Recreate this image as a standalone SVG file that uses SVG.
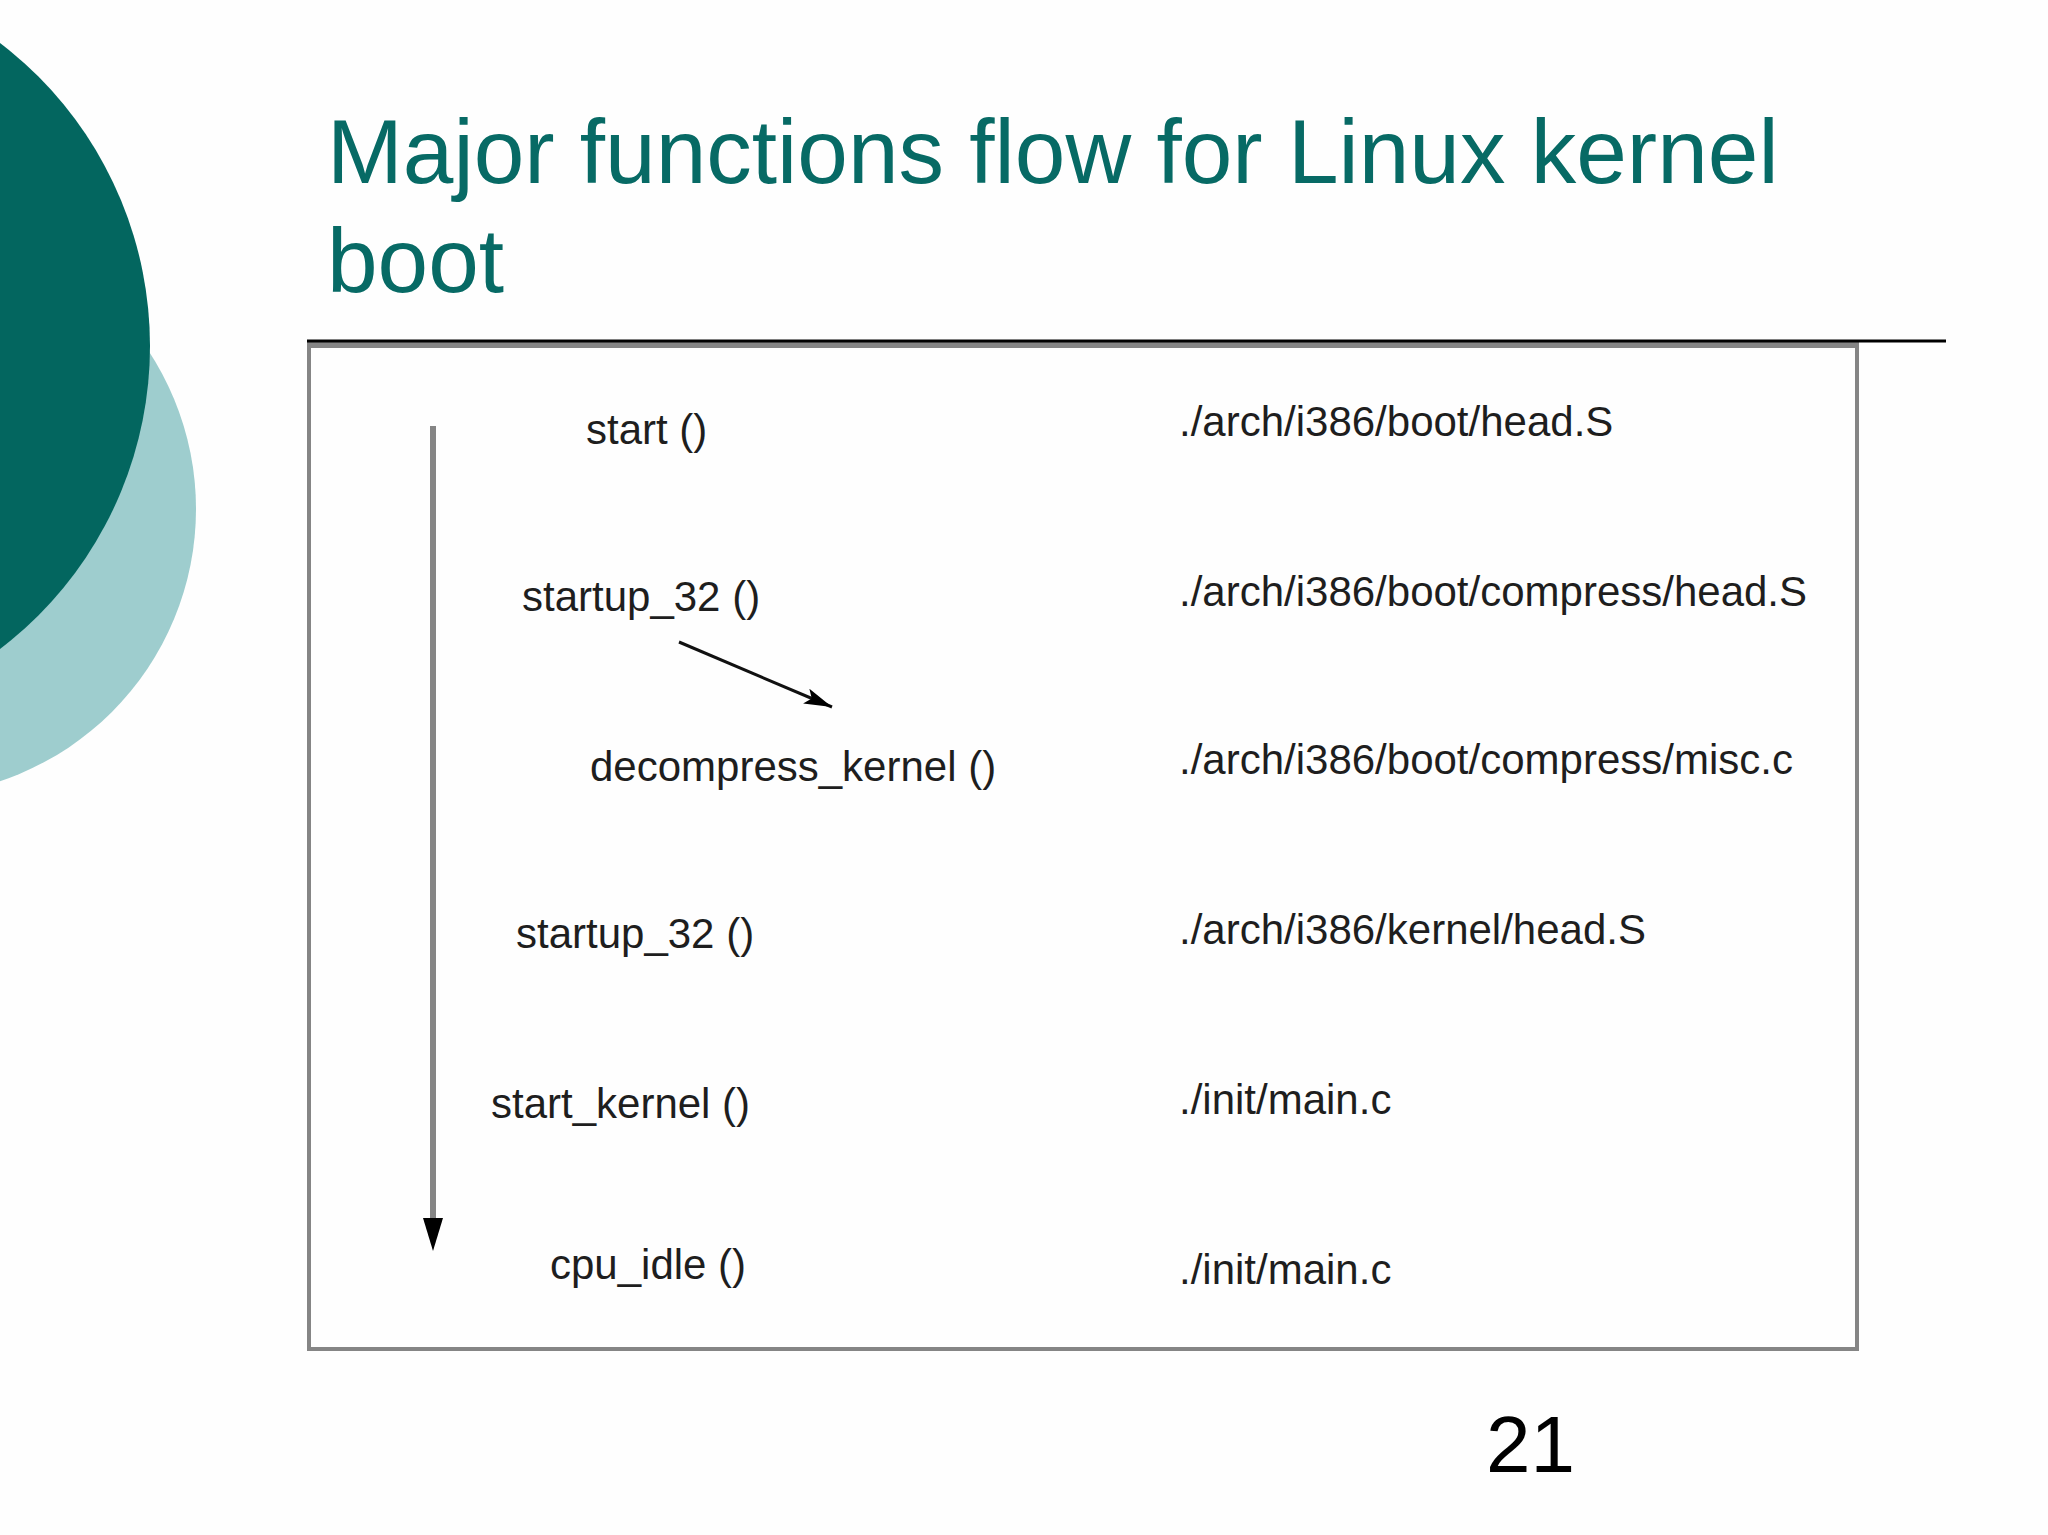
<svg xmlns="http://www.w3.org/2000/svg" width="2048" height="1535" viewBox="0 0 2048 1535">
  <style>
    .title { font-family: "Liberation Sans", Arial, sans-serif; font-size: 91px; fill: #076A65; }
    .fn { font-family: "Liberation Sans", Arial, sans-serif; font-size: 42px; fill: #1E1E1E; }
    .path { font-family: "Liberation Sans", Arial, sans-serif; font-size: 42px; fill: #1E1E1E; }
    .num { font-family: "Liberation Sans", Arial, sans-serif; font-size: 80px; fill: #000000; }
  </style>
  <defs>
    <marker id="headD" viewBox="0 0 28 16" refX="28" refY="8" markerUnits="userSpaceOnUse" markerWidth="28" markerHeight="16" orient="auto">
      <path d="M0,0 L28,8 L0,16 L6,8 Z" fill="#000"/>
    </marker>
  </defs>
  <rect x="0" y="0" width="2048" height="1535" fill="#FEFEFE"/>

  <g id="decoration">
    <circle cx="-91" cy="509" r="287" fill="#9ECDCE"/>
    <circle cx="-231" cy="346" r="381" fill="#03665F"/>
  </g>

  <g id="title">
    <text class="title" x="327" y="183">Major functions flow for Linux kernel</text>
    <text class="title" x="327" y="292">boot</text>
  </g>

  <g id="frame">
    <rect x="309" y="344" width="1548" height="1005" fill="none" stroke="#858585" stroke-width="4"/>
    <rect x="307" y="341" width="1552" height="7" fill="#858585"/>
    <line x1="307" y1="341" x2="1946" y2="341" stroke="#000" stroke-width="3"/>
  </g>

  <g id="connectors">
    <line x1="433" y1="426" x2="433" y2="1222" stroke="#858585" stroke-width="6"/>
    <path d="M423,1218 L443,1218 L433,1251 Z" fill="#000"/>
    <line x1="679" y1="642" x2="832" y2="707" stroke="#111" stroke-width="3" marker-end="url(#headD)"/>
  </g>

  <g id="node-start"><text class="fn" x="586" y="444">start ()</text></g>
  <g id="node-startup32a"><text class="fn" x="522" y="611">startup_32 ()</text></g>
  <g id="node-decompress"><text class="fn" x="590" y="781">decompress_kernel ()</text></g>
  <g id="node-startup32b"><text class="fn" x="516" y="948">startup_32 ()</text></g>
  <g id="node-startkernel"><text class="fn" x="491" y="1118">start_kernel ()</text></g>
  <g id="node-cpuidle"><text class="fn" x="550" y="1279">cpu_idle ()</text></g>

  <g id="file-1"><text class="path" x="1179" y="436">./arch/i386/boot/head.S</text></g>
  <g id="file-2"><text class="path" x="1179" y="606">./arch/i386/boot/compress/head.S</text></g>
  <g id="file-3"><text class="path" x="1179" y="774">./arch/i386/boot/compress/misc.c</text></g>
  <g id="file-4"><text class="path" x="1179" y="944">./arch/i386/kernel/head.S</text></g>
  <g id="file-5"><text class="path" x="1179" y="1114">./init/main.c</text></g>
  <g id="file-6"><text class="path" x="1179" y="1284">./init/main.c</text></g>

  <g id="page-number"><text class="num" x="1486" y="1472">21</text></g>
</svg>
